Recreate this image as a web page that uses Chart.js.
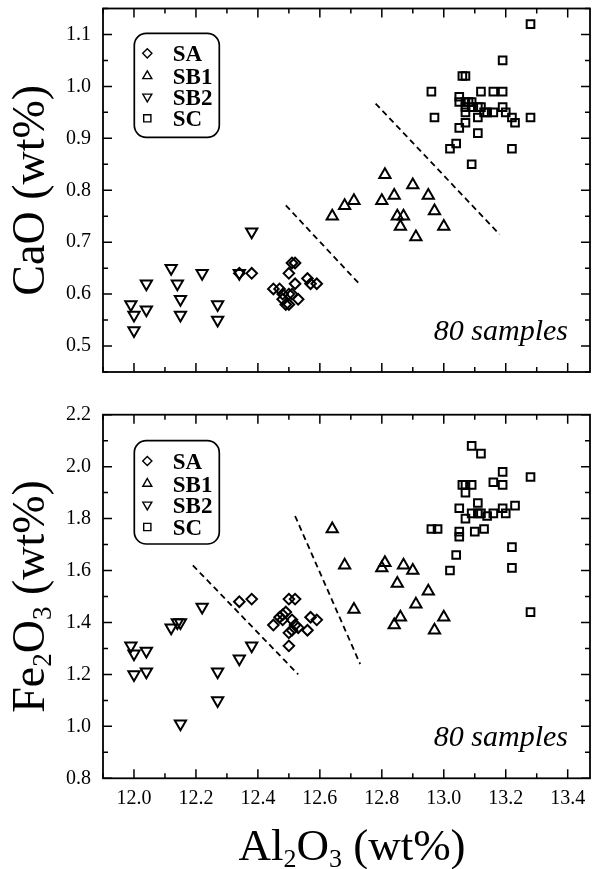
<!DOCTYPE html>
<html>
<head>
<meta charset="utf-8">
<script src="https://cdn.jsdelivr.net/npm/chart.js"></script>
<style>
  html, body { margin: 0; padding: 0; background: #fff; }
  .panel { position: absolute; left: 0; }
</style>
</head>
<body>
<div class="panel" style="top:0"><canvas id="chartCaO" width="604" height="400"></canvas></div>
<div class="panel" style="top:400px"><canvas id="chartFe" width="604" height="469"></canvas></div>
<script>
// tick labels
const alTicks = [12.0, 12.2, 12.4, 12.6, 12.8, 13.0, 13.2, 13.4];
const caoTicks = [0.5, 0.6, 0.7, 0.8, 0.9, 1.0, 1.1];
const feTicks = [0.8, 1.0, 1.2, 1.4, 1.6, 1.8, 2.0, 2.2];

const groups = ['SA', 'SB1', 'SB2', 'SC'];

// SA
const saAl  = [12.34, 12.38, 12.45, 12.47, 12.48, 12.48, 12.49, 12.50, 12.50, 12.50, 12.51, 12.51, 12.52, 12.52, 12.53, 12.56, 12.57, 12.59];
const saCaO = [0.64, 0.64, 0.61, 0.61, 0.60, 0.59, 0.58, 0.64, 0.60, 0.58, 0.66, 0.60, 0.62, 0.66, 0.59, 0.63, 0.62, 0.62];
const saFe  = [1.48, 1.49, 1.39, 1.42, 1.43, 1.41, 1.44, 1.49, 1.36, 1.31, 1.41, 1.37, 1.49, 1.39, 1.38, 1.37, 1.42, 1.41];

// SB1
const sb1Al  = [12.64, 12.68, 12.71, 12.80, 12.81, 12.84, 12.85, 12.86, 12.87, 12.90, 12.91, 12.95, 12.97, 13.00];
const sb1CaO = [0.75, 0.77, 0.78, 0.78, 0.83, 0.79, 0.75, 0.73, 0.75, 0.81, 0.71, 0.79, 0.76, 0.73];
const sb1Fe  = [1.76, 1.62, 1.45, 1.61, 1.63, 1.39, 1.55, 1.42, 1.62, 1.60, 1.47, 1.52, 1.37, 1.42];

// SB2
const sb2Al  = [11.99, 12.00, 12.00, 12.04, 12.04, 12.12, 12.14, 12.15, 12.15, 12.22, 12.27, 12.27, 12.34, 12.38];
const sb2CaO = [0.58, 0.56, 0.53, 0.62, 0.57, 0.65, 0.62, 0.59, 0.56, 0.64, 0.58, 0.55, 0.64, 0.72];
const sb2Fe  = [1.31, 1.28, 1.20, 1.29, 1.21, 1.38, 1.40, 1.40, 1.01, 1.46, 1.21, 1.10, 1.26, 1.31];

// SC (read separately in each panel)
const scAlTop = [13.28, 13.19, 13.06, 13.07, 12.96, 13.12, 13.16, 13.19, 13.05, 13.05, 13.07, 13.08, 13.09, 13.07, 13.09, 13.11, 13.12, 13.19,
                 13.07, 13.13, 13.14, 13.16, 13.20, 13.11, 13.22, 13.28, 12.97, 13.23, 13.07, 13.05, 13.11, 13.04, 13.02, 13.22, 13.09];
const scCaO   = [1.12, 1.05, 1.02, 1.02, 0.99, 0.99, 0.99, 0.99, 0.98, 0.97, 0.97, 0.97, 0.97, 0.96, 0.96, 0.96, 0.96, 0.96,
                 0.95, 0.95, 0.95, 0.95, 0.95, 0.94, 0.94, 0.94, 0.94, 0.93, 0.93, 0.92, 0.91, 0.89, 0.88, 0.88, 0.85];
const scAlBot = [13.09, 13.12, 13.19, 13.28, 13.16, 13.19, 13.06, 13.07, 13.09, 13.07, 13.11, 13.05, 13.19, 13.23, 13.09, 13.11,
                 13.12, 13.14, 13.16, 13.20, 13.07, 12.96, 12.98, 13.05, 13.05, 13.10, 13.13, 13.22, 13.04, 13.02, 13.22, 13.28];
const scFe    = [2.08, 2.05, 1.98, 1.96, 1.94, 1.93, 1.93, 1.93, 1.93, 1.90, 1.86, 1.84, 1.84, 1.85, 1.82, 1.82,
                 1.82, 1.81, 1.82, 1.82, 1.80, 1.76, 1.76, 1.75, 1.73, 1.75, 1.76, 1.69, 1.66, 1.60, 1.61, 1.44];

// dashed boundaries
const caoLine1Al = [12.49, 12.73], caoLine1 = [0.771, 0.618];
const caoLine2Al = [12.78, 13.18], caoLine2 = [0.967, 0.715];
const feLine1Al = [12.19, 12.53], feLine1 = [1.62, 1.20];
const feLine2Al = [12.52, 12.73], feLine2 = [1.81, 1.24];

const SERIF = "'Liberation Serif', 'Times New Roman', serif";

function pts(xs, ys) {
    return xs.map((x, i) => ({x: x, y: ys[i]}));
}

function scatterSet(label, data, style, radius, rotation) {
    return {
        type: 'scatter',
        label: label,
        data: data,
        pointStyle: style,
        pointRadius: radius,
        pointRotation: rotation || 0,
        pointBorderWidth: 2,
        pointBorderColor: '#000',
        pointBackgroundColor: 'rgba(0,0,0,0)',
        borderColor: '#000'
    };
}

function dashSet(xs, ys) {
    return {
        type: 'line',
        data: pts(xs, ys),
        borderColor: '#000',
        borderWidth: 1.8,
        borderDash: [6, 4],
        pointRadius: 0,
        fill: false
    };
}

function drawSymbol(ctx, kind, x, y) {
    ctx.beginPath();
    if (kind === 'SA') {
        const r = 4.6;
        ctx.moveTo(x, y - r); ctx.lineTo(x + r, y); ctx.lineTo(x, y + r); ctx.lineTo(x - r, y);
    } else if (kind === 'SB1') {
        const r = 5.2;
        ctx.moveTo(x, y - r); ctx.lineTo(x + r * 0.866, y + r * 0.5); ctx.lineTo(x - r * 0.866, y + r * 0.5);
    } else if (kind === 'SB2') {
        const r = 5.2;
        ctx.moveTo(x, y + r); ctx.lineTo(x + r * 0.866, y - r * 0.5); ctx.lineTo(x - r * 0.866, y - r * 0.5);
    } else {
        const h = 3.6;
        ctx.rect(x - h, y - h, 2 * h, 2 * h);
    }
    ctx.closePath();
    ctx.stroke();
}

function roundBox(ctx, x, y, w, h, r) {
    ctx.beginPath();
    ctx.moveTo(x + r, y);
    ctx.arcTo(x + w, y, x + w, y + h, r);
    ctx.arcTo(x + w, y + h, x, y + h, r);
    ctx.arcTo(x, y + h, x, y, r);
    ctx.arcTo(x, y, x + w, y, r);
    ctx.closePath();
    ctx.stroke();
}

function drawRich(ctx, parts, size, cx, baseY) {
    let total = 0;
    parts.forEach(p => {
        ctx.font = (p.sub ? Math.round(size * 0.58) : size) + 'px ' + SERIF;
        p.w = ctx.measureText(p.t).width;
        total += p.w;
    });
    let x = cx - total / 2;
    parts.forEach(p => {
        ctx.font = (p.sub ? Math.round(size * 0.58) : size) + 'px ' + SERIF;
        ctx.fillText(p.t, x, baseY + (p.sub ? size * 0.15 : 0));
        x += p.w;
    });
}

// frame, inward ticks, legend box and labels
const framePlugin = {
    id: 'frame',
    afterDraw(chart, args, opts) {
        const ctx = chart.ctx;
        const a = chart.chartArea;
        const xs = chart.scales.x, ys = chart.scales.y;
        ctx.save();
        ctx.strokeStyle = '#000';
        ctx.fillStyle = '#000';
        ctx.lineWidth = 1.8;
        ctx.setLineDash([]);
        ctx.strokeRect(a.left, a.top, a.right - a.left, a.bottom - a.top);

        const isMajor = (list, v) => list.some(m => Math.abs(m - v) < 1e-6);
        ctx.lineWidth = 1.5;
        ctx.beginPath();
        for (let v = xs.min; v <= xs.max + 1e-9; v += opts.xMinor) {
            const val = Math.round(v * 1000) / 1000;
            const len = isMajor(opts.xMajor, val) ? 9 : 5;
            const px = xs.getPixelForValue(val);
            ctx.moveTo(px, a.bottom); ctx.lineTo(px, a.bottom - len);
            ctx.moveTo(px, a.top); ctx.lineTo(px, a.top + len);
        }
        for (let v = ys.min; v <= ys.max + 1e-9; v += opts.yMinor) {
            const val = Math.round(v * 1000) / 1000;
            const len = isMajor(opts.yMajor, val) ? 9 : 5;
            const py = ys.getPixelForValue(val);
            ctx.moveTo(a.left, py); ctx.lineTo(a.left + len, py);
            ctx.moveTo(a.right, py); ctx.lineTo(a.right - len, py);
        }
        ctx.stroke();

        // legend
        const lg = opts.legend;
        ctx.lineWidth = 1.7;
        roundBox(ctx, lg.x, lg.y, lg.w, lg.h, 12);
        ctx.lineWidth = 1.4;
        ctx.font = 'bold 23px ' + SERIF;
        ctx.textBaseline = 'alphabetic';
        groups.forEach((g, i) => {
            const cy = lg.y + lg.rows[i];
            drawSymbol(ctx, g, lg.x + 13, cy);
            ctx.fillText(g, lg.x + 38.5, cy + 8);
        });

        // sample count
        ctx.font = 'italic 30px ' + SERIF;
        ctx.textAlign = 'right';
        ctx.fillText('80 samples', opts.note.x, opts.note.y);
        ctx.textAlign = 'left';

        // y title (rotated)
        ctx.save();
        ctx.translate(opts.yTitle.x, (a.top + a.bottom) / 2);
        ctx.rotate(-Math.PI / 2);
        drawRich(ctx, opts.yTitle.parts, 46, 0, 0);
        ctx.restore();

        if (opts.xTitle) {
            drawRich(ctx, opts.xTitle.parts, 45, opts.xTitle.x, opts.xTitle.y);
        }
        ctx.restore();
    }
};

function makePanel(canvasId, yMin, yMax, yTicks, datasets, o) {
    const ctx = document.getElementById(canvasId).getContext('2d');
    return new Chart(ctx, {
        type: 'scatter',
        data: { datasets: datasets },
        plugins: [framePlugin],
        options: {
            responsive: false,
            animation: false,
            events: [],
            layout: { padding: { top: o.top, right: 14, left: 0, bottom: 0 } },
            scales: {
                x: {
                    type: 'linear',
                    min: 11.9,
                    max: 13.472,
                    afterBuildTicks: s => { s.ticks = alTicks.map(v => ({value: v})); },
                    afterFit: s => { s.height = o.xHeight; s.paddingLeft = 0; s.paddingRight = 0; },
                    grid: { display: false, drawTicks: false },
                    border: { display: false },
                    ticks: {
                        display: o.xLabels,
                        padding: 8,
                        color: '#000',
                        font: { family: SERIF, size: 20 },
                        callback: v => v.toFixed(1)
                    }
                },
                y: {
                    min: yMin,
                    max: yMax,
                    afterBuildTicks: s => { s.ticks = yTicks.map(v => ({value: v})); },
                    afterFit: s => { s.width = 103; s.paddingTop = 0; s.paddingBottom = 0; },
                    grid: { display: false, drawTicks: false },
                    border: { display: false },
                    ticks: {
                        padding: 12,
                        color: '#000',
                        font: { family: SERIF, size: 20 },
                        callback: v => v.toFixed(1)
                    }
                }
            },
            plugins: {
                legend: { display: false },
                tooltip: { enabled: false },
                frame: o.frame
            }
        }
    });
}

makePanel('chartCaO', 0.45, 1.15, caoTicks, [
    scatterSet('SA', pts(saAl, saCaO), 'rectRot', 5.3),
    scatterSet('SB1', pts(sb1Al, sb1CaO), 'triangle', 6.5),
    scatterSet('SB2', pts(sb2Al, sb2CaO), 'triangle', 6.5, 180),
    scatterSet('SC', pts(scAlTop, scCaO), 'rect', 5.4),
    dashSet(caoLine1Al, caoLine1),
    dashSet(caoLine2Al, caoLine2)
], {
    top: 8,
    xHeight: 28,
    xLabels: false,
    frame: {
        xMajor: alTicks, xMinor: 0.1, yMajor: caoTicks, yMinor: 0.05,
        legend: { x: 134.3, y: 33.3, w: 85, h: 104, rows: [20, 42.7, 63.4, 85] },
        note: { x: 568, y: 340 },
        yTitle: { x: 44, parts: [{t: 'CaO (wt%)'}] }
    }
});

makePanel('chartFe', 0.8, 2.2, feTicks, [
    scatterSet('SA', pts(saAl, saFe), 'rectRot', 5.3),
    scatterSet('SB1', pts(sb1Al, sb1Fe), 'triangle', 6.5),
    scatterSet('SB2', pts(sb2Al, sb2Fe), 'triangle', 6.5, 180),
    scatterSet('SC', pts(scAlBot, scFe), 'rect', 5.4),
    dashSet(feLine1Al, feLine1),
    dashSet(feLine2Al, feLine2)
], {
    top: 14.7,
    xHeight: 90.7,
    xLabels: true,
    frame: {
        xMajor: alTicks, xMinor: 0.1, yMajor: feTicks, yMinor: 0.1,
        legend: { x: 134.3, y: 40.7, w: 85, h: 103.3, rows: [20.3, 43, 64, 86.3] },
        note: { x: 568, y: 345.7 },
        yTitle: { x: 44, parts: [{t: 'Fe'}, {t: '2', sub: true}, {t: 'O'}, {t: '3', sub: true}, {t: ' (wt%)'}] },
        xTitle: { x: 352, y: 460, parts: [{t: 'Al'}, {t: '2', sub: true}, {t: 'O'}, {t: '3', sub: true}, {t: ' (wt%)'}] }
    }
});
</script>
</body>
</html>
